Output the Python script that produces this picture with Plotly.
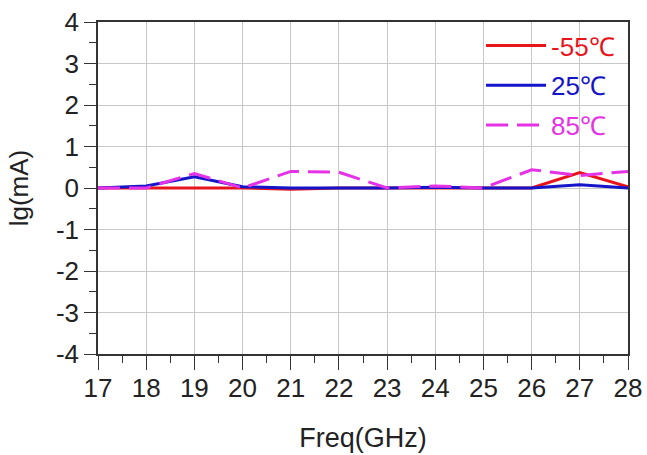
import plotly.graph_objects as go

freq = [17, 18, 19, 20, 21, 22, 23, 24, 25, 26, 27, 28]
lg_m55 = [0, 0, 0, 0, -0.03, 0, 0, 0, 0, 0, 0.37, 0.03]
lg_25 = [0, 0.05, 0.27, 0.03, 0, 0, 0, 0.02, 0, 0, 0.08, 0]
lg_85 = [0, 0, 0.35, 0, 0.40, 0.38, 0, 0.05, 0, 0.44, 0.30, 0.40]

x_ticks = list(range(17, 29))
y_ticks = [-4, -3, -2, -1, 0, 1, 2, 3, 4]

names = ["-55℃", "25℃", "85℃"]
colors = ["#e8141c", "#1414c8", "#e632e6"]
dashes = ["solid", "solid", "22px,9px"]
series = [lg_m55, lg_25, lg_85]

fig = go.Figure()
for i, (nm, col, ds, ys) in enumerate(zip(names, colors, dashes, series)):
    fig.add_trace(go.Scatter(
        x=freq, y=ys, mode="lines",
        name=f"<span style='color:{col}'>{nm}</span>",
        legendgroup=f"g{i}",
        line=dict(color=col, width=3, dash=ds),
    ))

font_family = "Liberation Sans, Arial, sans-serif"
fig.update_layout(
    width=647, height=455,
    margin=dict(l=98, r=19, t=22, b=101, autoexpand=False),
    plot_bgcolor="white", paper_bgcolor="white",
    font=dict(family=font_family, size=26, color="#222"),
    showlegend=True,
    legend=dict(
        x=0.985, y=1.0, xanchor="right", yanchor="top",
        bgcolor="rgba(255,255,255,0)", borderwidth=0,
        font=dict(size=26, family=font_family),
        tracegroupgap=3, itemwidth=60,
    ),
    xaxis=dict(
        range=[17, 28], tickmode="array", tickvals=x_ticks,
        ticktext=[str(v) for v in x_ticks], automargin=False,
        showgrid=True, gridcolor="#c8c8c8", gridwidth=1,
        showline=True, linecolor="#333", linewidth=1.5, mirror=True,
        ticks="outside", ticklen=14, tickcolor="#333", tickwidth=1.2,
        minor=dict(dtick=0.5, ticks="outside", ticklen=7, tickcolor="#333", showgrid=False),
        zeroline=False, ticklabelstandoff=-4,
        title=dict(text="Freq(GHz)", font=dict(size=27), standoff=26),
        tickfont=dict(size=26),
    ),
    yaxis=dict(
        range=[-4, 4], tickmode="array", tickvals=y_ticks,
        ticktext=[str(v) for v in y_ticks], automargin=False,
        showgrid=True, gridcolor="#c8c8c8", gridwidth=1,
        showline=True, linecolor="#333", linewidth=1.5, mirror=True,
        ticks="outside", ticklen=12, tickcolor="#333", tickwidth=1.2,
        minor=dict(dtick=0.5, ticks="outside", ticklen=7, tickcolor="#333", showgrid=False),
        zeroline=False,
        title=dict(text="lg(mA)", font=dict(size=26), standoff=20),
        tickfont=dict(size=26),
    ),
)

fig.write_html(
    "out.html",
    config={"displayModeBar": False},
    post_script="document.body.style.margin='0';document.body.style.overflow='hidden';",
)
